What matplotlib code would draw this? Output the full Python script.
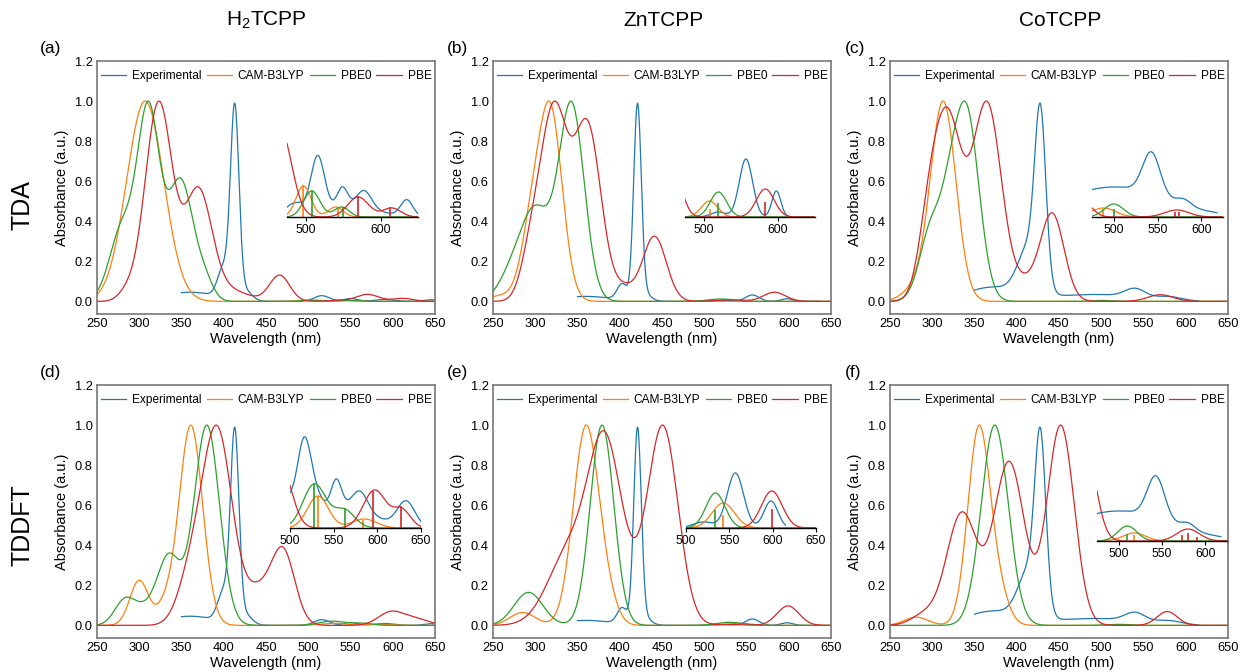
import numpy as np
import matplotlib.pyplot as plt

plt.rcParams['font.family'] = ['Liberation Sans', 'DejaVu Sans']
plt.rcParams['mathtext.fontset'] = 'custom'
plt.rcParams['mathtext.rm'] = 'Liberation Sans'

# ---- data: absorption bands, (centre nm, height, width nm)
methods = ['Experimental', 'CAM-B3LYP', 'PBE0', 'PBE']
colors = ['#1f77b4', '#ff7f0e', '#2ca02c', '#d62728']

exp_h2 = [(360, .045, 30), (400, .15, 7), (413, .92, 5), (425, .05, 8), (516, .028, 9),
          (550, .014, 8), (590, .009, 12), (645, .008, 8)]
exp_zn = [(360, .025, 30), (403, .08, 6), (421, .96, 4.5), (428, .04, 8), (520, .004, 12),
          (557, .032, 8), (598, .013, 7)]
exp_co = [(370, .07, 30), (415, .25, 13), (428, .82, 6.5), (490, .035, 50), (540, .045, 12),
          (580, .018, 15)]
exp_range_h2 = (350, 650)
exp_range_zn = (350, 635)
exp_range_co = (350, 615)

# TDA
a_cam = [(307, .99, 22), (497, .006, 10), (545, .003, 10)]
a_pbe0 = [(280, .35, 15), (311, .9, 13), (349, .58, 15), (378, .08, 10), (505, .006, 12), (545, .005, 12)]
a_pbe = [(285, .04, 10), (323, .99, 16), (370, .55, 16), (410, .05, 20), (466, .13, 12),
         (535, .005, 12), (570, .035, 13), (612, .015, 12)]
b_cam = [(265, .03, 20), (295, .3, 12), (318, .92, 14)]
b_pbe0 = [(270, .1, 15), (300, .45, 18), (343, .97, 15), (520, .012, 15)]
b_pbe = [(295, .2, 12), (322, .93, 16), (362, .85, 16), (405, .06, 12), (441, .32, 14),
         (530, .008, 15), (583, .045, 13)]
c_cam = [(280, .06, 15), (313, .97, 15)]
c_pbe0 = [(300, .38, 14), (320, .2, 10), (340, .96, 15), (500, .005, 12)]
c_pbe = [(295, .25, 12), (318, .9, 17), (365, .97, 17), (410, .08, 15), (442, .43, 14),
         (570, .033, 15)]
# TDDFT
d_cam = [(300, .22, 11), (330, .08, 10), (361, .98, 14), (530, .01, 15), (585, .005, 15)]
d_pbe0 = [(283, .12, 12), (305, .06, 12), (335, .33, 14), (380, .95, 15), (528, .02, 15), (563, .01, 12)]
d_pbe = [(360, .2, 15), (392, .95, 18), (440, .15, 15), (470, .36, 14), (598, .065, 15), (628, .03, 15)]
e_cam = [(285, .063, 15), (360, .97, 15), (385, .1, 12), (540, .01, 15)]
e_pbe0 = [(292, .16, 17), (379, .97, 14), (530, .015, 15)]
e_pbe = [(340, .35, 25), (383, .86, 20), (418, .06, 15), (451, .97, 18), (530, .005, 15), (599, .095, 13)]
f_cam = [(281, .04, 14), (355, .95, 13), (378, .15, 12)]
f_pbe0 = [(374, .97, 16), (520, .005, 15)]
f_pbe = [(290, .05, 15), (335, .55, 18), (391, .8, 18), (452, .98, 16), (578, .068, 12)]

# insets (heights in pixels above the inset baseline)
ia_exp = [(485, 12, 12), (516, 55, 9), (549, 20, 7), (555, 10, 40), (578, 18, 10), (635, 16, 8)]
ia_cam = [(497, 31, 10), (540, 10, 10)]
ia_pbe0 = [(508, 26, 11), (548, 10, 10)]
ia_pbe = [(466, 88, 15), (570, 20, 14), (615, 9, 12)]
ia_sticks = [[(497, 32), (543, 10)], [(508, 27), (550, 10)], [(570, 21), (612, 10)]]

ib_exp = [(520, 5, 10), (557, 58, 9), (598, 26, 6)]
ib_cam = [(508, 16, 11)]
ib_pbe0 = [(520, 25, 11)]
ib_pbe = [(460, 45, 11), (583, 28, 12)]
ib_sticks = [[(509, 8)], [(520, 14)], [(583, 15)]]

ic_exp = [(500, 30, 60), (543, 42, 10), (580, 6, 8)]
ic_cam = [(488, 9, 14)]
ic_pbe0 = [(500, 13, 11)]
ic_pbe = [(465, 15, 10), (572, 7, 14)]
ic_sticks = [[(488, 8)], [(500, 8)], [(570, 5), (575, 5)]]

id_exp = [(497, 22, 7), (516, 78, 8), (530, 15, 8), (553, 29, 6), (560, 20, 35), (580, 20, 9), (633, 25, 10)]
id_cam = [(532, 32, 12), (585, 9, 14)]
id_pbe0 = [(528, 44, 13), (562, 18, 12)]
id_pbe = [(490, 60, 12), (597, 38, 13), (628, 18, 10)]
id_sticks = [[(532, 32), (584, 8)], [(527, 45), (563, 20)], [(595, 37), (627, 22)]]

ie_exp = [(520, 6, 12), (557, 55, 9.5), (598, 27, 8)]
ie_cam = [(543, 25, 13)]
ie_pbe0 = [(534, 35, 11)]
ie_pbe = [(599, 37, 12)]
ie_sticks = [[(543, 13)], [(534, 18)], [(599, 19)]]

if_exp = [(500, 30, 60), (543, 42, 10), (580, 6, 8)]
if_cam = [(518, 8, 13)]
if_pbe0 = [(510, 15, 11)]
if_pbe = [(462, 90, 12), (580, 12, 13)]
if_sticks = [[(518, 6)], [(510, 7)], [(573, 6), (580, 8), (590, 4)]]


def spectrum(x, bands):
    y = np.zeros_like(x)
    for c, h, w in bands:
        y += h * np.exp(-0.5 * ((x - c) / w) ** 2)
    return y


W, H = 1248, 672
fig = plt.figure(figsize=(W / 100, H / 100), dpi=100)
wl = np.arange(250, 650.25, 0.5)

panels = [
    ('(a)', exp_h2, exp_range_h2, (a_cam, a_pbe0, a_pbe),
     (ia_exp, ia_cam, ia_pbe0, ia_pbe), ia_sticks, (287, 418, 217, 140), (475, 650), [500, 600], (475, 650)),
    ('(b)', exp_zn, exp_range_zn, (b_cam, b_pbe0, b_pbe),
     (ib_exp, ib_cam, ib_pbe0, ib_pbe), ib_sticks, (685, 815, 217, 140), (475, 650), [500, 600], (480, 615)),
    ('(c)', exp_co, exp_range_co, (c_cam, c_pbe0, c_pbe),
     (ic_exp, ic_cam, ic_pbe0, ic_pbe), ic_sticks, (1092, 1223, 217, 140), (475, 625), [500, 550, 600], (475, 618)),
    ('(d)', exp_h2, exp_range_h2, (d_cam, d_pbe0, d_pbe),
     (id_exp, id_cam, id_pbe0, id_pbe), id_sticks, (290, 421, 528, 433), (500, 650), [500, 550, 600, 650], (500, 650)),
    ('(e)', exp_zn, exp_range_zn, (e_cam, e_pbe0, e_pbe),
     (ie_exp, ie_cam, ie_pbe0, ie_pbe), ie_sticks, (686, 816, 528, 453), (500, 650), [500, 550, 600, 650], (500, 615)),
    ('(f)', exp_co, exp_range_co, (f_cam, f_pbe0, f_pbe),
     (if_exp, if_cam, if_pbe0, if_pbe), if_sticks, (1097, 1227, 541, 466), (475, 625), [500, 550, 600], (475, 618)),
]

lefts = [97, 493, 890]
tops = [61, 385]
bottoms = [314, 638]
label_x = [40, 447, 845]
label_y = [48, 372]

for i, (lab, expb, erng, calc, ins, sticks, box, ixl, ixt, irng) in enumerate(panels):
    r, c = divmod(i, 3)
    ax = fig.add_axes([lefts[c] / W, 1 - bottoms[r] / H, 338 / W, (bottoms[r] - tops[r]) / H])
    m = (wl >= erng[0]) & (wl <= erng[1])
    ye = spectrum(wl[m], expb)
    ax.plot(wl[m], 0.99 * ye / ye.max(), color=colors[0], lw=0.9, label=methods[0])
    for k, bands in enumerate(calc):
        y = spectrum(wl, bands)
        ax.plot(wl, y / y.max(), color=colors[k + 1], lw=0.9, label=methods[k + 1])
    ax.set_xlim(250, 650)
    ax.set_ylim(-0.063, 1.2)
    ax.set_xticks(np.arange(250, 651, 50))
    ax.set_yticks(np.arange(0, 1.21, 0.2))
    ax.yaxis.set_major_formatter(plt.FormatStrFormatter('%.1f'))
    ax.tick_params(length=0, labelsize=9.3, pad=3)
    for s in ax.spines.values():
        s.set_color('#777777')
        s.set_linewidth(1.2)
    ax.set_xlabel('Wavelength (nm)', fontsize=10.5, labelpad=1)
    ax.set_ylabel('Absorbance (a.u.)', fontsize=10.5, labelpad=4)
    ax.legend(loc='upper center', ncol=4, frameon=False, fontsize=8.6, handlelength=2.1,
              handletextpad=0.5, columnspacing=0.45, borderaxespad=0.35)
    fig.text(label_x[c] / W, 1 - label_y[r] / H, lab, fontsize=12.5, va='center')

    # inset
    x0, x1, yb, yt = box
    iax = fig.add_axes([x0 / W, 1 - yb / H, (x1 - x0) / W, (yb - yt) / H], facecolor='none')
    xi = np.arange(ixl[0], ixl[1] + 0.25, 0.5)
    mi = (xi >= irng[0]) & (xi <= irng[1])
    iax.plot(xi[mi], spectrum(xi[mi], ins[0]), color=colors[0], lw=0.9)
    for k in range(3):
        iax.plot(xi, spectrum(xi, ins[k + 1]), color=colors[k + 1], lw=0.9)
        for pos, h in sticks[k]:
            iax.vlines(pos, 0, h, color=colors[k + 1], lw=1.2)
    iax.set_xlim(*ixl)
    iax.set_ylim(0, yb - yt)
    iax.set_xticks(ixt)
    iax.set_yticks([])
    for s in ['left', 'right', 'top']:
        iax.spines[s].set_visible(False)
    iax.spines['bottom'].set_linewidth(1.0)
    iax.tick_params(axis='x', length=3, width=0.8, labelsize=8.8, pad=2)

# column and row titles
for x, t in zip([266, 664, 1060], [r'H$_\mathrm{2}$TCPP', 'ZnTCPP', 'CoTCPP']):
    fig.text(x / W, 1 - 20 / H, t, fontsize=15, ha='center', va='center')
fig.text(23 / W, 1 - 205 / H, 'TDA', fontsize=18, rotation=90, ha='center', va='center')
fig.text(23 / W, 1 - 525 / H, 'TDDFT', fontsize=18, rotation=90, ha='center', va='center')

fig.savefig('out.png', dpi=100)
